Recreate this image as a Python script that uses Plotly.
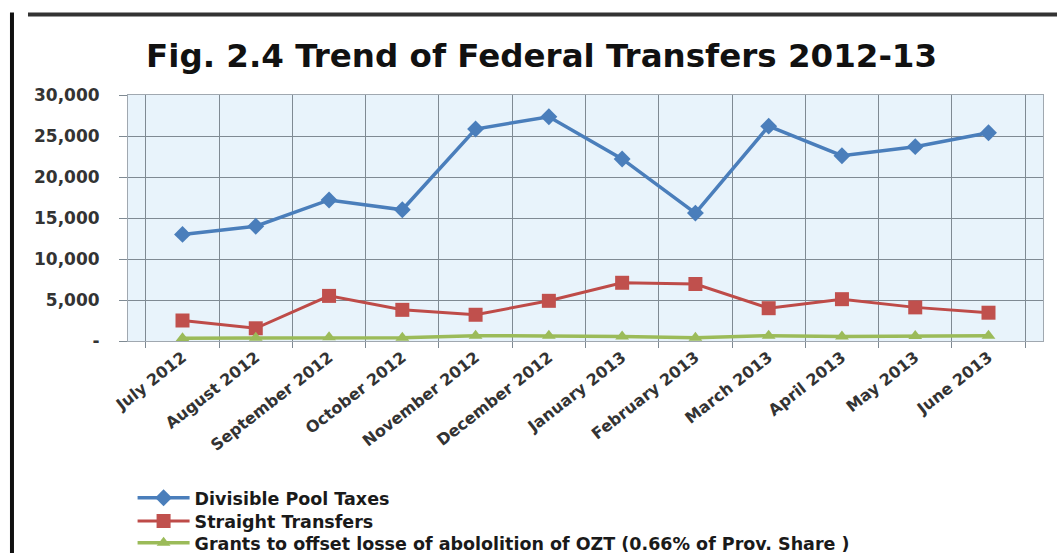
import plotly.graph_objects as go

months = ["July 2012", "August 2012", "September 2012", "October 2012", "November 2012",
          "December 2012", "January 2013", "February 2013", "March 2013", "April 2013",
          "May 2013", "June 2013"]
divisible_pool = [13000, 14000, 17200, 16000, 25850, 27350, 22200, 15600, 26200, 22600, 23700, 25400]
straight_transfers = [2500, 1550, 5500, 3800, 3200, 4900, 7100, 6950, 4000, 5100, 4100, 3450]
ozt_grants = [350, 400, 450, 400, 650, 650, 550, 400, 650, 550, 600, 650]
y_tickvals = [0, 5000, 10000, 15000, 20000, 25000, 30000]
y_ticktext = ["-", "5,000", "10,000", "15,000", "20,000", "25,000", "30,000"]

FONT = "DejaVu Sans"
LEG_FONT = dict(family=FONT, size=17.5, color="#1a1a1a", weight="bold")

fig = go.Figure()
fig.add_trace(go.Scatter(x=months, y=divisible_pool, name="Divisible Pool Taxes",
                         mode="lines+markers", legend="legend",
                         line=dict(color="#4A7EBB", width=3.5),
                         marker=dict(symbol="diamond", size=13, color="#4A7EBB")))
fig.add_trace(go.Scatter(x=months, y=straight_transfers, name="Straight Transfers",
                         mode="lines+markers", legend="legend2",
                         line=dict(color="#BE4B48", width=3),
                         marker=dict(symbol="square", size=14, color="#C0504D")))
fig.add_trace(go.Scatter(x=months, y=ozt_grants,
                         name="Grants to offset losse of abololition of OZT (0.66% of Prov. Share )",
                         mode="lines+markers", legend="legend3",
                         line=dict(color="#9BBB59", width=3.5),
                         marker=dict(symbol="triangle-up", size=12, color="#9BBB59")))

def leg(y):
    return dict(x=0.005, y=y, xanchor="left", yanchor="middle",
                bgcolor="rgba(0,0,0,0)", font=LEG_FONT, itemwidth=52)

fig.update_layout(
    width=1057, height=553,
    margin=dict(l=128, r=14, t=95, b=212, autoexpand=False),
    paper_bgcolor="white",
    plot_bgcolor="#E8F3FB",
    title=dict(text="Fig. 2.4 Trend of Federal Transfers 2012-13",
               x=0.452, xref="paper", xanchor="center", y=0.9, yanchor="middle",
               font=dict(family=FONT, size=32.5, color="#111111", weight="bold")),
    showlegend=True,
    legend=leg(-0.638),
    legend2=leg(-0.732),
    legend3=leg(-0.821),
    xaxis=dict(type="category", tickson="boundaries", showgrid=True,
               gridcolor="#7F8A93", gridwidth=1, ticks="outside", ticklen=6,
               tickcolor="#7F8A93", tickangle=-38, automargin=False,
               showline=True, linecolor="#A0A8B0", linewidth=1, mirror=True,
               tickfont=dict(family=FONT, size=16, color="#333333", weight="bold")),
    yaxis=dict(range=[0, 30000], tickvals=y_tickvals, ticktext=y_ticktext,
               showgrid=True, gridcolor="#7F8A93", gridwidth=1,
               ticks="outside", ticklen=8, tickcolor="#7F8A93",
               ticklabelstandoff=16, automargin=False,
               showline=True, linecolor="#A0A8B0", linewidth=1, mirror=True,
               zeroline=False,
               tickfont=dict(family=FONT, size=17, color="#333333", weight="bold")),
    shapes=[
        dict(type="line", xref="paper", yref="paper", layer="above",
             x0=-0.1093, x1=1.02, y0=1.327, y1=1.327,
             line=dict(color="#333333", width=4)),
        dict(type="line", xref="paper", yref="paper", layer="above",
             x0=-0.1268, x1=-0.1268, y0=1.335, y1=-0.9,
             line=dict(color="#111111", width=4)),
    ],
)

fig.write_html("out.html")
